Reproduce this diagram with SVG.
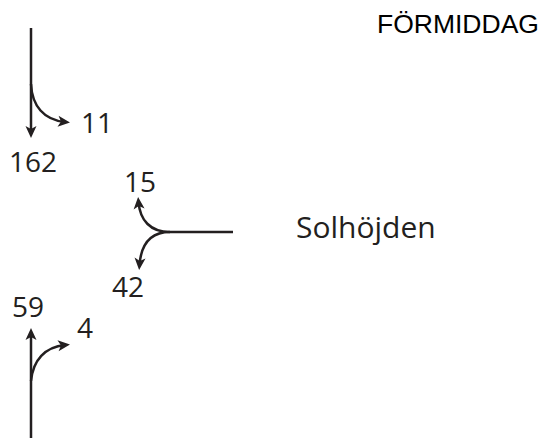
<svg xmlns="http://www.w3.org/2000/svg" width="539" height="438" viewBox="0 0 539 438">
<style>
.ln{fill:none;stroke:#231f20;stroke-width:2.5}
.num{font-family:"Open Sans","DejaVu Sans",sans-serif;font-size:28px;fill:#231f20}
.big{font-size:30px}
.hd{font-family:"Liberation Sans",Arial,sans-serif;font-size:26.5px;fill:#000}
</style>
<defs>
<marker id="ah" markerUnits="userSpaceOnUse" markerWidth="20" markerHeight="20" viewBox="-10 -10 20 20" refX="0" refY="0" orient="auto">
<path d="M5,0 L-7,-5.5 L-4,0 L-7,5.5 Z" fill="#231f20"/>
</marker>
</defs>
<rect width="539" height="438" fill="#fff"/>
<g id="connectors">
<path class="ln" d="M31,28 L31,133" marker-end="url(#ah)"/>
<path class="ln" d="M31,84 C32,106 44,120 65,122" marker-end="url(#ah)"/>
<path class="ln" d="M233,232 L170,232 C150,232 140,220 138.5,202" marker-end="url(#ah)"/>
<path class="ln" d="M170,232 C150,232 141,245 139.5,265" marker-end="url(#ah)"/>
<path class="ln" d="M31,438 L31,333" marker-end="url(#ah)"/>
<path class="ln" d="M31,381 C33,360 45,347 65,345" marker-end="url(#ah)"/>
</g>
<g id="title"><text class="hd" x="377" y="33">FÖRMIDDAG</text></g>
<g id="label-11"><text class="num" x="81" y="133">11</text></g>
<g id="label-162"><text class="num" x="9" y="172">162</text></g>
<g id="label-15"><text class="num" x="124" y="192">15</text></g>
<g id="label-42"><text class="num" x="112" y="297">42</text></g>
<g id="label-59"><text class="num" x="12" y="317">59</text></g>
<g id="label-4"><text class="num" x="77" y="338">4</text></g>
<g id="solhojden"><text class="num big" x="296" y="238">Solhöjden</text></g>
</svg>
